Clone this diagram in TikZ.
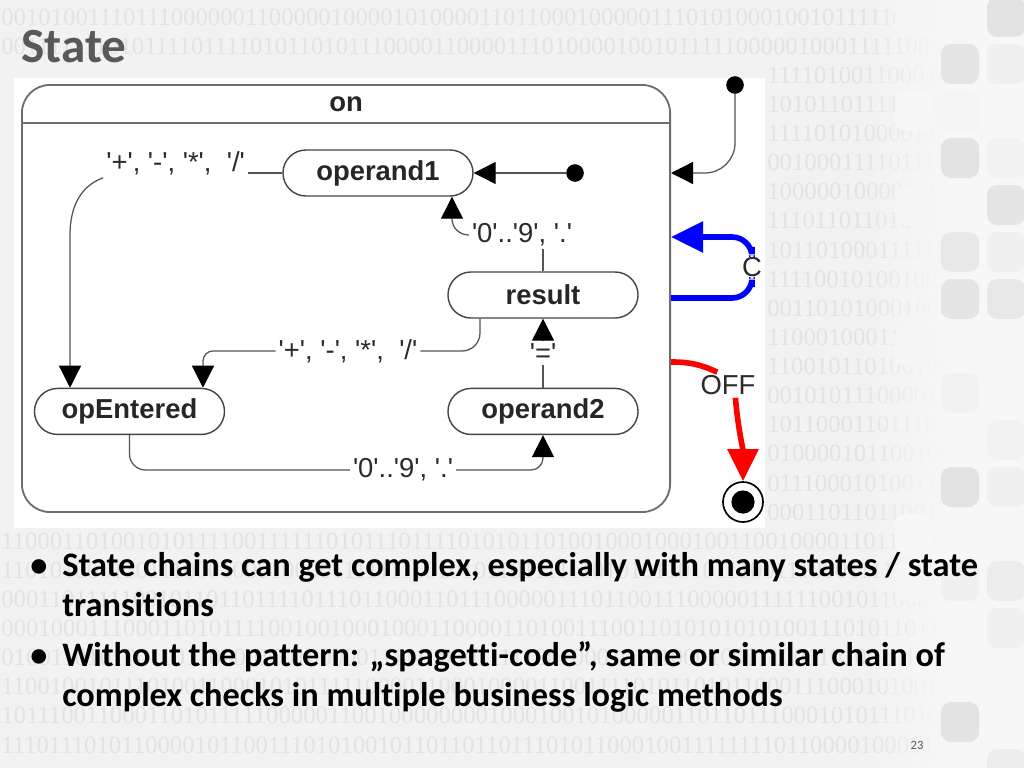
\documentclass[tikz,border=0pt]{standalone}
\usepackage{fontspec}
\newfontfamily\diagfont{Liberation Sans}
\newfontfamily\slidefont[Ligatures={NoCommon,NoDiscretionary,NoContextual}]{Carlito}
\newfontfamily\bitfont{Liberation Serif}
\usepackage{tikz}
\usetikzlibrary{positioning, arrows.meta, fadings}
\definecolor{slidebg}{HTML}{F2F2F2}
\definecolor{slideside}{HTML}{F7F7F7}
\definecolor{bitgray}{HTML}{E3E3E3}
\definecolor{titlegray}{HTML}{595959}
\definecolor{stateline}{HTML}{444444}
\definecolor{compline}{HTML}{6E6E6E}
\definecolor{transline}{HTML}{555555}
\definecolor{labeltext}{HTML}{2B2B2B}
\definecolor{pureblue}{HTML}{0000FF}
\definecolor{purered}{HTML}{FF0000}
\newcommand{\nodefont}{\diagfont\bfseries\fontsize{19.5}{22}\selectfont}
\newcommand{\labelfont}{\diagfont\fontsize{19.5}{22}\selectfont}
\newcommand{\q}[1]{\textquotesingle#1\textquotesingle}
\tikzfading[name=fadeinright, left color=transparent!100, right color=transparent!0]
\tikzset{
  >={Triangle[length=5.5mm, width=5.5mm, color=black]},
  statebox/.style={
    rectangle, rounded corners=0.575cm, draw=stateline, line width=1pt,
    fill=white, minimum width=4.75cm, minimum height=1.15cm,
    inner sep=0pt, text=black!85, font=\nodefont
  },
  compound/.style={
    rectangle, rounded corners=0.7cm, draw=compline, line width=1.3pt,
    minimum width=16.2cm, minimum height=10.675cm, inner sep=0pt
  },
  compoundline/.style={draw=compline, line width=1.3pt},
  namelabel/.style={font=\nodefont, text=black!85, inner sep=0pt},
  initdot/.style={circle, fill=black, minimum size=0.44cm, inner sep=0pt},
  finalring/.style={
    circle, draw=black, line width=1.2pt, fill=white, minimum size=1cm,
    inner sep=0pt,
    path picture={\fill[black] (path picture bounding box.center) circle (0.29cm);}
  },
  trlabel/.style={font=\labelfont, text=labeltext, inner sep=2pt},
  transline/.style={draw=transline, line width=0.9pt},
  trans/.style={->, draw=transline, line width=0.9pt},
  ctrans/.style={-{Triangle[length=8mm, width=7.5mm]}, draw=pureblue,
    line width=4pt, rounded corners=0.5cm},
  offline/.style={draw=purered, line width=4pt},
  offtrans/.style={-{Triangle[length=8mm, width=7.5mm]}, draw=purered,
    line width=4pt},
  bits/.style={anchor=west, inner sep=0pt, text=bitgray,
    font=\bitfont\fontsize{17.6}{18}\selectfont},
  bullettext/.style={anchor=base west, inner sep=0pt, align=left,
    font=\slidefont\bfseries\fontsize{24.4}{28.45}\selectfont}
}

\begin{document}
\begin{tikzpicture}[x=0.025cm, y=-0.025cm]
\useasboundingbox (0,0) rectangle (1024,768);
\fill[slidebg] (0,0) rectangle (1024,768);

% binary backdrop (rows behind the panel start right of it)
\pgfmathsetseed{2718}
\foreach \r in {0,...,25}{
  \pgfmathsetmacro{\rowy}{17+29.12*\r}
  \pgfmathsetmacro{\rowx}{(\rowy>70 && \rowy<535) ? 767 : 1}
  \pgfmathtruncatemacro{\rown}{(936-\rowx)/12}
  \gdef\bitrow{}
  \foreach \c in {1,...,\rown}{\pgfmathrandominteger{\bitval}{0}{1}\xdef\bitrow{\bitrow\bitval}}
  \node[bits] (bits\r) at (\rowx,\rowy) {\bitrow};
}
\fill[slideside, path fading=fadeinright] (860,0) rectangle (945,768);
\fill[slideside] (945,0) rectangle (1024,768);
\foreach \cx/\ry/\sh in {1/0/4,3/0/11,2/1/10,3/1/6,1/2/3,2/2/4,2/3/11,3/3/5,
    1/4/4,3/4/10,2/5/9,3/5/6,2/6/10,3/6/9,1/7/4,2/8/5,3/9/5,2/10/11,
    3/10/6,1/11/3,2/12/6,3/12/7,1/12/4,3/13/6,2/15/11,3/16/7}
  \fill[black!\sh, rounded corners=0.25cm] ({895+46*(\cx-1)},{47*\ry-3}) rectangle ++(38,40);

% diagram panel
\fill[white] (14,78) rectangle (765,528);

\node[compound] (on) at (346,298.5) {};
\coordinate (hdr) at (346,123);
\draw[compoundline] (on.west |- hdr) -- (on.east |- hdr);
\node[namelabel] (onname) at (346,104) {on};

\node[statebox] (operand1) at (378,173) {operand1};
\node[statebox] (result) at (543,295) {result};
\node[statebox, below=1.725cm of result] (operand2) {operand2};
\node[statebox, left=5.55cm of operand2] (opEntered) {opEntered};

\node[initdot] (init1) at (575,173) {};
\node[initdot] (init2) at (735,85) {};
\node[finalring] (fin) at (743,502) {};

% transitions inside "on"
\draw[trans] (init1) -- (operand1);

\node[trlabel, anchor=east] (lblA) at (248,163) {\q{+}, \q{-}, \q{*},\ \ \q{/}};
\coordinate (bendA) at (70,235);
\draw[transline] (operand1.west) -- (operand1.west -| lblA.east);
\draw[trans] (lblA.south west) to[out=200, in=90] (bendA) -- (opEntered.north -| bendA);

\node[trlabel] (lblB) at (522,235) {\q{0}..\q{9}, \q{.}};
\coordinate (bendB) at (452,219);
\draw[transline] (result.north) -- (result.north |- lblB.south);
\draw[trans] (lblB.west) to[out=180, in=-90] (bendB) -- (operand1.south -| bendB);

\node[trlabel] (lblC) at (348,351) {\q{+}, \q{-}, \q{*},\ \ \q{/}};
\coordinate (xC) at (480,0);
\coordinate (xD) at (203,0);
\draw[transline, rounded corners=0.45cm] (result.south -| xC) |- (lblC.east);
\draw[trans, rounded corners=0.25cm] (lblC.west) -| (opEntered.north -| xD);

\draw[trans] (operand2) -- node[trlabel, fill=white] (lblD) {\q{=}} (result);

\node[trlabel] (lblE) at (403,470) {\q{0}..\q{9}, \q{.}};
\draw[transline, rounded corners=0.4cm] (opEntered.south) |- (lblE.west);
\draw[trans, rounded corners=0.3cm] (lblE.east) -| (operand2.south);

% outer transitions
\draw[trans, rounded corners=0.75cm] (init2) |- (on.east |- operand1);

\coordinate (cLow) at (670,298);
\coordinate (cHigh) at (670,237);
\coordinate (cTurn) at (752,267);
\draw[ctrans] (on.east |- cLow) -| (cTurn) node[trlabel, fill=white] (clbl) {C} |- (on.east |- cHigh);

\coordinate (cOff) at (670,362);
\node[trlabel] (offlbl) at (728,385) {OFF};
\draw[offline] (on.east |- cOff) to[out=0, in=155] (offlbl.130);
\draw[offtrans] (offlbl.-60) to[out=-85, in=90] (fin);

% slide text
\node[anchor=base west, inner sep=0pt, text=titlegray,
  font=\slidefont\bfseries\fontsize{35}{40}\selectfont] (title) at (21,63) {State};

\node[bullettext] (dot1) at (30,576) {•};
\node[bullettext] (item1) at (62,616) {State chains can get complex, especially with many states / state\\transitions};
\node[bullettext] (dot2) at (30,666) {•};
\node[bullettext] (item2) at (62,706) {Without the pattern: „spagetti-code”, same or similar chain of\\complex checks in multiple business logic methods};

\node[inner sep=0pt, text=titlegray, font=\slidefont\fontsize{9}{10}\selectfont] (pgno) at (917,745) {23};
\end{tikzpicture}
\end{document}
